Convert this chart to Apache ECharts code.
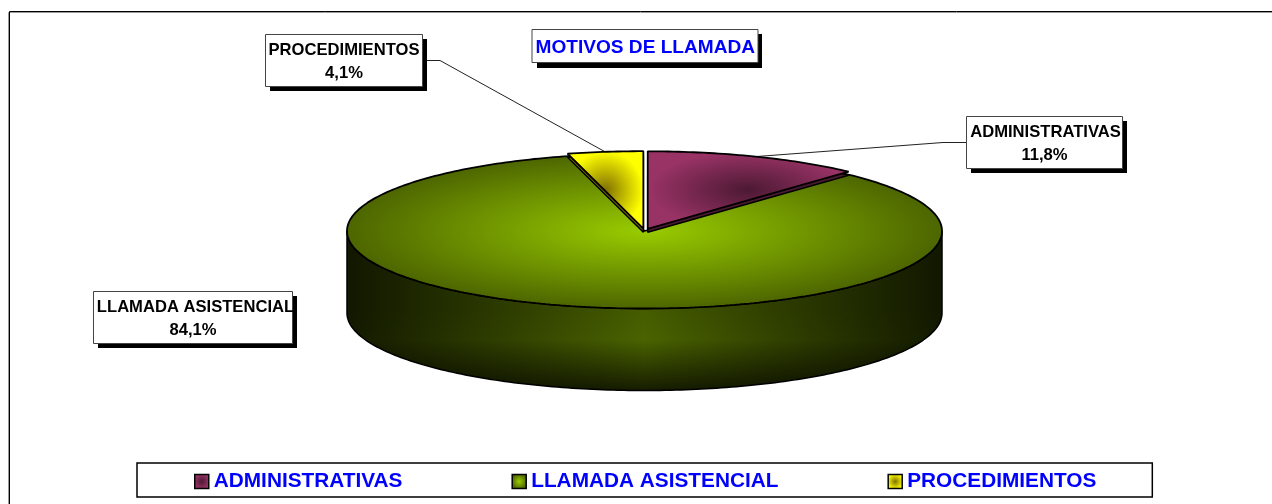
<!DOCTYPE html>
<html>
<head>
<meta charset="utf-8">
<title>Motivos de llamada</title>
<style>
  html, body { margin: 0; padding: 0; background: #fff; }
  #myChart { width: 1272px; height: 504px; }
</style>
</head>
<body>
<div id="myChart"></div>
<script src="https://cdn.jsdelivr.net/npm/echarts@6/dist/echarts.min.js"></script>
<script>
// datos
const chartTitle = 'MOTIVOS DE LLAMADA';
const categories = ['ADMINISTRATIVAS', 'LLAMADA ASISTENCIAL', 'PROCEDIMIENTOS'];
const percents = [11.8, 84.1, 4.1];

const FONT = '"Liberation Sans", Arial, sans-serif';

// geometria de la tarta
const pie = { cx: 644.5, cy: 231, rx: 297.5, ry: 77.5 };
const explode = [0.03, 0, 0.03];
const depths = [3.5, 82, 3.5];
const faceColors = [
  { center: '#4c1933', edge: '#993366', side: '#4c1933' },
  { center: '#99cc00', edge: '#4d6600', side: '#2c3a00' },
  { center: '#807000', edge: '#ffff00', side: '#807000' }
];
const wallColors = { center: '#4d6600', edge: '#131a00' };

// etiquetas: caja, desplazamiento del texto y codo de la linea guia
const labelBoxes = [
  { x: 966, y: 116, w: 156, h: 52, tx: 1, line: [[966, 142.5], [943, 142.5]] },
  { x: 93, y: 291, w: 199, h: 52, tx: 2.5, line: null },
  { x: 265, y: 34, w: 157, h: 52, tx: 0, line: [[422, 60.5], [440, 60.5]] }
];

const total = percents.reduce((a, b) => a + b, 0);
const startAngle = i => percents.slice(0, i).reduce((a, b) => a + b, 0) / total * 360;

function rimPoint(deg, dx, dy) {
  const a = deg * Math.PI / 180;
  return [pie.cx + dx + pie.rx * Math.sin(a), pie.cy + dy - pie.ry * Math.cos(a)];
}

function arcPoints(from, to, dx, dy) {
  const pts = [];
  const n = Math.max(2, Math.ceil(Math.abs(to - from)));
  for (let k = 0; k <= n; k++) pts.push(rimPoint(from + (to - from) * k / n, dx, dy));
  return pts;
}

function boundsOf(pts) {
  const xs = pts.map(p => p[0]);
  const ys = pts.map(p => p[1]);
  return { x0: Math.min(...xs), x1: Math.max(...xs), y0: Math.min(...ys), y1: Math.max(...ys) };
}

// degradado desde el centro: circulo escalado en vertical para que sea eliptico
function ellipticFace(poly, box, center, edge) {
  const s = (box.y1 - box.y0) / (box.x1 - box.x0);
  const fill = new echarts.graphic.RadialGradient(
    (box.x0 + box.x1) / 2,
    (box.y0 + box.y1) / 2 / s,
    (box.x1 - box.x0) / 2,
    [{ offset: 0, color: center }, { offset: 1, color: edge }],
    true
  );
  return {
    type: 'polygon',
    scaleY: s,
    shape: { points: poly.map(p => [p[0], p[1] / s]) },
    style: { fill: fill }
  };
}

function renderSlice(i) {
  return function (params, api) {
    const value = api.value(0);
    const from = startAngle(i);
    const to = from + value / total * 360;
    const mid = (from + to) / 2;
    const rad = mid * Math.PI / 180;
    const dx = explode[i] * pie.rx * Math.sin(rad);
    const dy = -explode[i] * pie.ry * Math.cos(rad);
    const top = [[pie.cx + dx, pie.cy + dy]].concat(arcPoints(from, to, dx, dy));
    const colors = faceColors[i];
    const children = [];
    const box = labelBoxes[i];
    const isBody = depths[i] > 10;

    // linea guia
    if (box.line) {
      children.push({
        type: 'polyline',
        shape: { points: box.line.concat([rimPoint(mid, dx, dy)]) },
        style: { fill: null, stroke: '#222', lineWidth: 1 }
      });
    }

    // lateral
    if (isBody) {
      const wall = arcPoints(90, 270, dx, dy).concat(arcPoints(270, 90, dx, dy + depths[i]));
      children.push({
        type: 'polygon',
        shape: { points: wall },
        style: {
          fill: new echarts.graphic.LinearGradient(pie.cx - pie.rx, 0, pie.cx + pie.rx, 0, [
            { offset: 0, color: wallColors.edge },
            { offset: 0.5, color: wallColors.center },
            { offset: 1, color: wallColors.edge }
          ], true)
        }
      });
      children.push({
        type: 'polygon',
        shape: { points: wall },
        style: {
          fill: new echarts.graphic.LinearGradient(0, pie.cy + pie.ry, 0, pie.cy + pie.ry + depths[i], [
            { offset: 0, color: 'rgba(0,0,0,0.1)' },
            { offset: 0.38, color: 'rgba(0,0,0,0.03)' },
            { offset: 1, color: 'rgba(0,0,0,0.72)' }
          ], true),
          stroke: '#000',
          lineWidth: 1.5
        }
      });
    } else {
      children.push({
        type: 'polygon',
        shape: { points: top.map(p => [p[0], p[1] + depths[i]]) },
        style: { fill: colors.side, stroke: '#000', lineWidth: 1.5, lineJoin: 'bevel' }
      });
    }

    // cara superior
    const faceBox = isBody
      ? { x0: pie.cx - pie.rx, x1: pie.cx + pie.rx, y0: pie.cy - pie.ry, y1: pie.cy + pie.ry }
      : boundsOf(top);
    children.push(ellipticFace(top, faceBox, colors.center, colors.edge));
    children.push({
      type: 'polygon',
      shape: { points: top },
      style: { fill: null, stroke: '#000', lineWidth: 1.8, lineJoin: 'bevel' }
    });

    // caja de la etiqueta
    children.push({
      type: 'rect',
      shape: { x: box.x + 5, y: box.y + 5, width: box.w, height: box.h },
      style: { fill: '#000' }
    });
    children.push({
      type: 'rect',
      shape: { x: box.x + 0.5, y: box.y + 0.5, width: box.w, height: box.h },
      style: { fill: '#fff', stroke: '#444', lineWidth: 1 }
    });
    const textStyle = {
      fill: '#000',
      font: 'bold 16.6px ' + FONT,
      align: 'center',
      verticalAlign: 'middle'
    };
    children.push({
      type: 'text',
      style: Object.assign({ text: categories[i], x: box.x + box.w / 2 + 0.5 + box.tx, y: box.y + 16 }, textStyle)
    });
    children.push({
      type: 'text',
      style: Object.assign({
        text: value.toFixed(1).replace('.', ',') + '%',
        x: box.x + box.w / 2 + 0.5,
        y: box.y + 39
      }, textStyle)
    });
    return { type: 'group', children: children };
  };
}

function legendIcon(i) {
  return new echarts.graphic.RadialGradient(0.5, 0.5, 0.5, [
    { offset: 0, color: faceColors[i].center },
    { offset: 1, color: faceColors[i].edge }
  ]);
}

const option = {
  animation: false,
  backgroundColor: '#fff',
  title: {
    text: chartTitle,
    left: 532,
    top: 29,
    padding: [9, 3.5, 6, 3.5],
    backgroundColor: '#fff',
    borderColor: '#444',
    borderWidth: 1,
    textStyle: { color: '#0000ff', fontSize: 19.1, fontWeight: 'bold', fontFamily: FONT }
  },
  legend: {
    left: 137,
    top: 463,
    padding: [8, 56, 5, 57],
    itemGap: 109,
    itemWidth: 14,
    itemHeight: 14,
    selectedMode: false,
    borderColor: '#000',
    borderWidth: 1.5,
    textStyle: { color: '#0000ff', fontSize: 20.8, fontWeight: 'bold', fontFamily: FONT, padding: [0, 0, 0, 0] },
    data: categories.map((name, i) => ({
      name: name,
      icon: 'rect',
      itemStyle: { color: legendIcon(i), borderColor: '#000', borderWidth: 1.5 }
    }))
  },
  graphic: [
    { type: 'polyline', shape: { points: [[8.5, 504], [8.5, 12.5], [1272, 12.5]] }, style: { fill: null, stroke: '#999', lineWidth: 1 } },
    { type: 'polyline', shape: { points: [[9.5, 504], [9.5, 11.5], [1272, 11.5]] }, style: { fill: null, stroke: '#000', lineWidth: 1 } },
    // sombra del titulo
    { type: 'rect', shape: { x: 537, y: 34, width: 225, height: 34 }, style: { fill: '#000' } }
  ],
  series: categories.map((name, i) => ({
    name: name,
    type: 'custom',
    coordinateSystem: 'none',
    z: i === 1 ? 1 : 2,
    silent: true,
    clip: false,
    itemStyle: { color: faceColors[i].edge },
    renderItem: renderSlice(i),
    data: [percents[i]]
  }))
};

const myChart = echarts.init(document.getElementById('myChart'), null, { renderer: 'canvas' });
myChart.setOption(option);
</script>
</body>
</html>
